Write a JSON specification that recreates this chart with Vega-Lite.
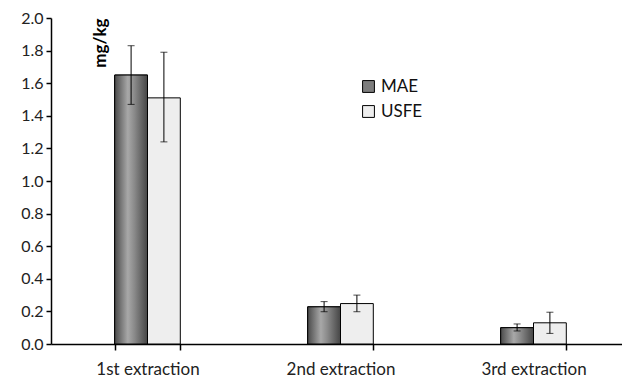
{
  "$schema": "https://vega.github.io/schema/vega-lite/v6.json",
  "width": 579,
  "height": 326,
  "autosize": {"type": "none"},
  "padding": {"left": 51, "top": 18, "right": 0, "bottom": 34},
  "background": "white",
  "config": {
    "font": "Lato",
    "view": {"stroke": null},
    "axis": {"domainColor": "#000", "domainWidth": 1.5, "ticks": true, "tickColor": "#000", "tickWidth": 1.5, "tickOpacity": 1, "labelColor": "#222", "labelFont": "Lato", "grid": false, "labelOverlap": false}
  },
  "data": {
    "values": [
      {"extraction": "1st extraction", "method": "MAE", "value": 1.65, "lo": 1.47, "hi": 1.83},
      {"extraction": "1st extraction", "method": "USFE", "value": 1.51, "lo": 1.24, "hi": 1.79},
      {"extraction": "2nd extraction", "method": "MAE", "value": 0.228, "lo": 0.198, "hi": 0.26},
      {"extraction": "2nd extraction", "method": "USFE", "value": 0.248, "lo": 0.198, "hi": 0.30},
      {"extraction": "3rd extraction", "method": "MAE", "value": 0.10, "lo": 0.08, "hi": 0.123},
      {"extraction": "3rd extraction", "method": "USFE", "value": 0.13, "lo": 0.065, "hi": 0.195}
    ]
  },
  "encoding": {
    "x": {
      "field": "extraction", "type": "nominal",
      "scale": {"paddingInner": 0.66, "paddingOuter": 0.33},
      "axis": {"title": null, "labelAngle": 0, "labelFontSize": 17, "ticks": true, "tickColor": "#000", "tickBand": "extent", "tickSize": 6, "labelPadding": 11}
    },
    "xOffset": {"field": "method", "type": "nominal", "scale": {"paddingInner": 0, "paddingOuter": 0}}
  },
  "layer": [
    {
      "mark": {"type": "bar", "stroke": "#000", "strokeWidth": 1},
      "encoding": {
        "y": {
          "field": "value", "type": "quantitative",
          "scale": {"domain": [0, 2], "nice": false},
          "axis": {"values": [0, 0.2, 0.4, 0.6, 0.8, 1.0, 1.2, 1.4, 1.6, 1.8, 2.0], "format": ".1f", "title": "mg/kg", "labelOverlap": false,
            "labelFontSize": 16, "tickSize": 5, "labelPadding": 3, "titleFontWeight": "bold", "titleFontSize": 17, "titleColor": "#000",
            "titleAngle": -90, "titleAlign": "right", "titleBaseline": "middle", "titleX": 49, "titleY": 0}
        },
        "color": {
          "field": "method", "type": "nominal",
          "scale": {"domain": ["MAE", "USFE"], "range": ["#7d7d7d", "#eeeeee"]},
          "legend": {
            "title": null, "orient": "none", "legendX": 309, "legendY": 60,
            "symbolType": "square", "symbolSize": 140, "symbolStrokeColor": "#000", "symbolStrokeWidth": 1,
            "symbolOpacity": 1, "labelFontSize": 17, "labelColor": "#111", "rowPadding": 7, "labelOffset": 4
          }
        }
      }
    },
    {
      "transform": [{"filter": "datum.method === 'MAE'"}],
      "mark": {
        "type": "bar", "stroke": "#000", "strokeWidth": 1,
        "fill": {"gradient": "linear", "x1": 0, "x2": 1, "y1": 0, "y2": 0,
          "stops": [
            {"offset": 0, "color": "#4a4a4a"},
            {"offset": 0.4, "color": "#a8a8a8"},
            {"offset": 0.6, "color": "#8a8a8a"},
            {"offset": 1, "color": "#454545"}
          ]}
      },
      "encoding": {
        "y": {"field": "value", "type": "quantitative",
          "axis": {"values": [0, 0.2, 0.4, 0.6, 0.8, 1.0, 1.2, 1.4, 1.6, 1.8, 2.0], "format": ".1f", "title": "mg/kg", "labelOverlap": false,
            "labelFontSize": 16, "tickSize": 5, "labelPadding": 3, "titleFontWeight": "bold", "titleFontSize": 17, "titleColor": "#000",
            "titleAngle": -90, "titleAlign": "right", "titleBaseline": "middle", "titleX": 49, "titleY": 0}}
      }
    },
    {
      "mark": {"type": "rule", "color": "#000", "strokeWidth": 1},
      "encoding": {
        "y": {"field": "lo", "type": "quantitative",
          "axis": {"values": [0, 0.2, 0.4, 0.6, 0.8, 1.0, 1.2, 1.4, 1.6, 1.8, 2.0], "format": ".1f", "title": "mg/kg", "labelOverlap": false,
            "labelFontSize": 16, "tickSize": 5, "labelPadding": 3, "titleFontWeight": "bold", "titleFontSize": 17, "titleColor": "#000",
            "titleAngle": -90, "titleAlign": "right", "titleBaseline": "middle", "titleX": 49, "titleY": 0}},
        "y2": {"field": "hi"}
      }
    },
    {
      "mark": {"type": "tick", "color": "#000", "thickness": 1, "size": 7, "orient": "horizontal"},
      "encoding": {"y": {"field": "lo", "type": "quantitative",
          "axis": {"values": [0, 0.2, 0.4, 0.6, 0.8, 1.0, 1.2, 1.4, 1.6, 1.8, 2.0], "format": ".1f", "title": "mg/kg", "labelOverlap": false,
            "labelFontSize": 16, "tickSize": 5, "labelPadding": 3, "titleFontWeight": "bold", "titleFontSize": 17, "titleColor": "#000",
            "titleAngle": -90, "titleAlign": "right", "titleBaseline": "middle", "titleX": 49, "titleY": 0}}}
    },
    {
      "mark": {"type": "tick", "color": "#000", "thickness": 1, "size": 7, "orient": "horizontal"},
      "encoding": {"y": {"field": "hi", "type": "quantitative",
          "axis": {"values": [0, 0.2, 0.4, 0.6, 0.8, 1.0, 1.2, 1.4, 1.6, 1.8, 2.0], "format": ".1f", "title": "mg/kg", "labelOverlap": false,
            "labelFontSize": 16, "tickSize": 5, "labelPadding": 3, "titleFontWeight": "bold", "titleFontSize": 17, "titleColor": "#000",
            "titleAngle": -90, "titleAlign": "right", "titleBaseline": "middle", "titleX": 49, "titleY": 0}}}
    }
  ]
}
